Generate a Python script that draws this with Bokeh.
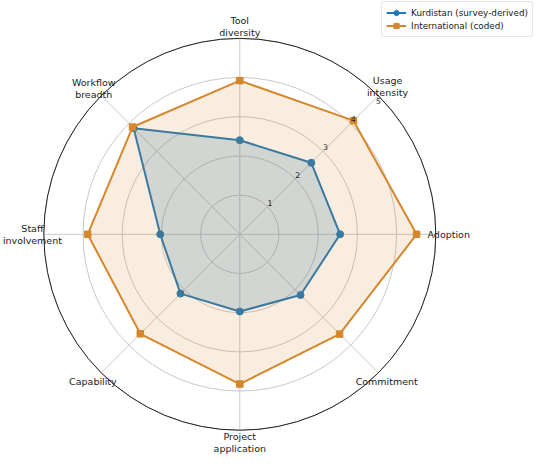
import math
from bokeh.plotting import figure
from bokeh.models import Range1d, Legend, LegendItem
from bokeh.core.properties import value
from bokeh.embed import file_html
from bokeh.resources import INLINE

# ---- data ----
categories = ["Adoption", "Usage\nintensity", "Tool\ndiversity", "Workflow\nbreadth",
              "Staff\ninvolvement", "Capability", "Project\napplication", "Commitment"]
kurdistan = [2.56, 2.58, 2.40, 3.83, 2.03, 2.14, 1.97, 2.19]
international = [4.51, 4.10, 3.92, 3.87, 3.88, 3.59, 3.82, 3.60]
ring_ticks = [1, 2, 3, 4, 5]
ring_labels = ["1", "2", "3", "4", "5"]
series_names = ["Kurdistan (survey-derived)", "International (coded)"]

# ---- layout ----
W, H = 534, 454
PX = 39.2            # pixels per unit
CX, CY = 239.3, 233.8  # centre in canvas pixels (from left, from top)
RMAX = 5
FONT = "DejaVu Sans"
BLUE = "#1f77b4"
ORANGE = "#d6872c"

p = figure(width=W, height=H, output_backend="svg", toolbar_location=None,
           x_axis_location=None, y_axis_location=None, min_border=0,
           x_range=Range1d(-CX / PX, (W - CX) / PX),
           y_range=Range1d(-(H - CY) / PX, CY / PX))
p.grid.visible = False
p.outline_line_color = None
p.background_fill_color = "white"
p.border_fill_color = "white"

n = len(categories)
angles = [2 * math.pi * i / n for i in range(n)]

# grid rings
for r in ring_ticks:
    p.circle(x=0, y=0, radius=r, fill_color=None, line_color="#c8c8c8", line_width=1)
# spokes
p.segment(x0=[0] * n, y0=[0] * n,
          x1=[RMAX * math.cos(a) for a in angles],
          y1=[RMAX * math.sin(a) for a in angles],
          line_color="#c8c8c8", line_width=1)
# outer spine
p.circle(x=0, y=0, radius=RMAX, fill_color=None, line_color="#222222", line_width=1)

legend_items = []
for vals, name, col, marker, msize, falpha in [
        (kurdistan, series_names[0], BLUE, "circle", 7, 0.2),
        (international, series_names[1], ORANGE, "square", 6.5, 0.15)]:
    xs = [v * math.cos(a) for v, a in zip(vals, angles)]
    ys = [v * math.sin(a) for v, a in zip(vals, angles)]
    p.patch(xs, ys, fill_color=col, fill_alpha=falpha, line_color=None)
    ln = p.line(xs + [xs[0]], ys + [ys[0]], line_color=col, line_width=2)
    sc = p.scatter(xs, ys, marker=marker, size=msize, fill_color=col, line_color=col)
    legend_items.append(LegendItem(label=name, renderers=[ln, sc]))

# ring tick labels along 45 degrees (drawn on top)
ta = math.radians(45)
tx, ty = [], []
for v in ring_ticks:
    bx, by = v * math.cos(ta), v * math.sin(ta)
    if v == max(ring_ticks):
        tx.append(bx); ty.append(by - 5.0 / PX)
    else:
        tx.append(bx + 2.5 / PX); ty.append(by + 4.0 / PX)
p.text(x=tx, y=ty, text=ring_labels, text_align="center", text_baseline="middle",
       text_font=value(FONT), text_font_size="7.8px", text_color="#262626")

# category labels
label_r = [5.33, 5.33, 5.3, 5.27, 5.29, 5.3, 5.32, 5.3]
lx = [r * math.cos(a) for r, a in zip(label_r, angles)]
ly = [r * math.sin(a) for r, a in zip(label_r, angles)]
p.text(x=lx, y=ly, text=categories, text_align="center", text_baseline="middle",
       text_font=value(FONT), text_font_size="9.5px", text_line_height=1.12,
       text_color="#1a1a1a")

legend = Legend(items=legend_items, location="top_right", margin=1,
                label_text_font=FONT, label_text_font_size="8.8px",
                label_text_color="#1a1a1a",
                glyph_width=20, glyph_height=13, label_height=13,
                spacing=0, padding=4, label_standoff=5,
                border_line_color="#cccccc", border_line_width=1,
                background_fill_color="white", background_fill_alpha=0.8)
if "border_radius" in Legend.properties():
    legend.border_radius = 3
p.add_layout(legend)

open("out.html", "w").write(file_html(p, INLINE))
